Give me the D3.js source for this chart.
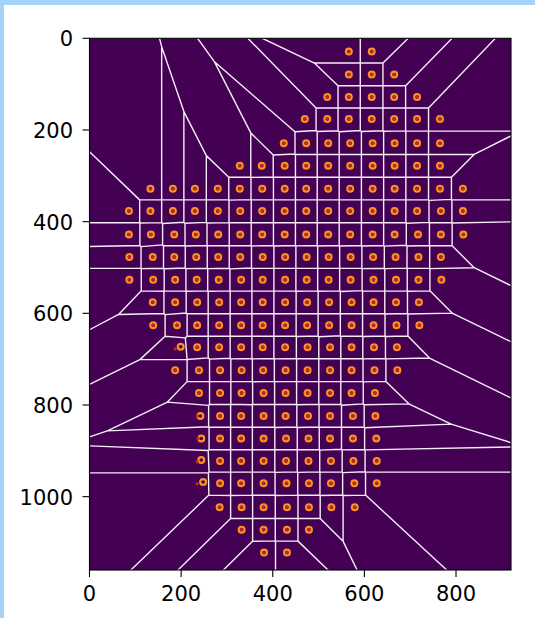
<!DOCTYPE html>
<html>
<head>
<meta charset="utf-8">
<script src="https://cdn.jsdelivr.net/npm/d3@7"></script>
<style>
  html, body { margin: 0; padding: 0; background: #ffffff; }
  svg { display: block; }
  text { font-family: "DejaVu Sans", sans-serif; }
</style>
</head>
<body>
<svg id="chart" width="535" height="618"></svg>
<script>
// Axis extents (image coordinates, y grows downward) and tick values
const xExtent = [0, 920];
const yExtent = [0, 1160];
const xTicks = [0, 200, 400, 600, 800];
const yTicks = [0, 200, 400, 600, 800, 1000];

// Detected spot centres, one row of the array per entry
const rowY = [29, 79, 128, 176, 229, 278, 328, 377, 428, 477, 527, 576,
              626, 674, 724, 774, 824, 873, 922, 971, 1023, 1072, 1122];
const rowX = [
  [566, 616],
  [566, 616, 665],
  [519, 566, 616, 665, 715],
  [470, 519, 566, 616, 665, 715, 765],
  [424, 473, 521, 569, 618, 666, 715, 765],
  [328, 376, 426, 473, 521, 569, 618, 666, 715, 765],
  [133, 182, 230, 280, 328, 377, 426, 473, 521, 569, 618, 666, 715, 765, 815],
  [86, 133, 182, 230, 280, 329, 377, 426, 473, 521, 569, 618, 666, 715, 767, 815],
  [86, 134, 185, 232, 281, 329, 377, 426, 473, 521, 569, 618, 666, 717, 767, 816],
  [87, 138, 185, 233, 281, 329, 378, 427, 474, 522, 570, 619, 668, 718, 767],
  [87, 139, 187, 234, 282, 331, 378, 427, 474, 522, 570, 620, 669, 718, 768],
  [138, 187, 235, 283, 331, 378, 427, 475, 523, 572, 620, 669, 719],
  [139, 191, 235, 283, 331, 378, 427, 475, 523, 572, 620, 670, 720],
  [235, 283, 331, 378, 427, 476, 525, 572, 621, 671],
  [187, 239, 285, 332, 379, 428, 476, 525, 572, 622, 672],
  [239, 285, 332, 380, 428, 476, 525, 572, 623],
  [285, 331, 380, 428, 477, 525, 575, 624],
  [285, 331, 380, 429, 478, 525, 575, 626],
  [285, 331, 380, 429, 478, 527, 576, 627],
  [285, 331, 380, 430, 479, 527, 578, 627],
  [284, 332, 380, 431, 479, 528, 579],
  [332, 380, 431, 479],
  [381, 431]
];

// Spots whose fitted ring sits apart from the detected centre
const looseDots  = [[187, 678], [235, 824], [237, 873], [235, 924], [235, 972]];
const looseRings = [[199, 673], [242, 824], [244, 873], [244, 920], [248, 968]];

// ---- layout ----
const svg = d3.select("#chart");
const plot = { left: 89.5, top: 38.3, right: 511, bottom: 570 };

const x = d3.scaleLinear().domain(xExtent).range([plot.left, plot.right]);
const y = d3.scaleLinear().domain(yExtent).range([plot.top, plot.bottom]);

// window frame strips
svg.append("rect").attr("x", 0).attr("y", 0).attr("width", 535).attr("height", 5).attr("fill", "#a4d2fa");
svg.append("rect").attr("x", 0).attr("y", 0).attr("width", 4).attr("height", 618).attr("fill", "#a4d2fa");

svg.append("defs").append("clipPath").attr("id", "plotClip")
  .append("rect")
  .attr("x", plot.left).attr("y", plot.top)
  .attr("width", plot.right - plot.left).attr("height", plot.bottom - plot.top);

const g = svg.append("g").attr("clip-path", "url(#plotClip)");

g.append("rect")
  .attr("x", plot.left).attr("y", plot.top)
  .attr("width", plot.right - plot.left).attr("height", plot.bottom - plot.top)
  .attr("fill", "#440154");

// sites
const matched = [];
rowY.forEach((yy, i) => rowX[i].forEach(xx => matched.push([xx, yy])));
const sites = matched.concat(looseDots);
const rings = matched.concat(looseRings);

// Voronoi tessellation in data space, drawn through the scales
const voronoi = d3.Delaunay.from(sites).voronoi([xExtent[0], yExtent[0], xExtent[1], yExtent[1]]);
const path = d3.path();
const projected = {
  moveTo: (a, b) => path.moveTo(x(a), y(b)),
  lineTo: (a, b) => path.lineTo(x(a), y(b)),
  closePath: () => path.closePath()
};
voronoi.render(projected);

g.append("path")
  .attr("d", path.toString())
  .attr("fill", "none")
  .attr("stroke", "#f4eef8")
  .attr("stroke-width", 1.4)
  .attr("stroke-linecap", "round");

g.append("g").selectAll("circle")
  .data(rings)
  .join("circle")
  .attr("cx", d => x(d[0]))
  .attr("cy", d => y(d[1]))
  .attr("r", 2.9)
  .attr("fill", "none")
  .attr("stroke", "#f7941d")
  .attr("stroke-width", 2.2);

g.append("g").selectAll("circle")
  .data(sites)
  .join("circle")
  .attr("cx", d => x(d[0]))
  .attr("cy", d => y(d[1]))
  .attr("r", 1.7)
  .attr("fill", "#c8202c");

// spines
svg.append("rect")
  .attr("x", plot.left).attr("y", plot.top)
  .attr("width", plot.right - plot.left).attr("height", plot.bottom - plot.top)
  .attr("fill", "none").attr("stroke", "#000").attr("stroke-width", 1.1);

// axes
const fontSize = 21;
const tickLen = 7;
const xAxis = svg.append("g");
xTicks.forEach(t => {
  xAxis.append("line")
    .attr("x1", x(t)).attr("x2", x(t))
    .attr("y1", plot.bottom).attr("y2", plot.bottom + tickLen)
    .attr("stroke", "#000").attr("stroke-width", 1.1);
  xAxis.append("text")
    .attr("x", x(t)).attr("y", plot.bottom + 31)
    .attr("text-anchor", "middle")
    .attr("font-size", fontSize)
    .attr("fill", "#000")
    .text(t);
});

const yAxis = svg.append("g");
yTicks.forEach(t => {
  yAxis.append("line")
    .attr("x1", plot.left - tickLen).attr("x2", plot.left)
    .attr("y1", y(t)).attr("y2", y(t))
    .attr("stroke", "#000").attr("stroke-width", 1.1);
  yAxis.append("text")
    .attr("x", plot.left - 16.5).attr("y", y(t) + 8)
    .attr("text-anchor", "end")
    .attr("font-size", fontSize)
    .attr("fill", "#000")
    .text(t);
});
</script>
</body>
</html>
